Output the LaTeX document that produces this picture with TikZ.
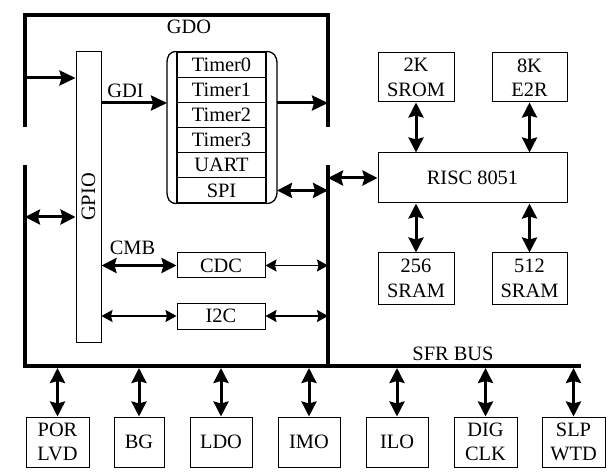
\documentclass[tikz,border=0pt]{standalone}
\usepackage{fontspec}
\setmainfont{Liberation Serif}
\usetikzlibrary{arrows.meta}
\tikzset{
  box/.style={draw, line width=1pt, inner sep=0pt, align=center},
  lbl/.style={inner sep=0pt},
  frame/.style={line width=3.5pt, line join=miter},
  thk/.style={line width=3pt, -{Stealth[length=16pt,width=15pt,inset=2pt]}},
  thkd/.style={line width=3pt, {Stealth[length=15pt,width=15pt,inset=2pt]}-{Stealth[length=15pt,width=15pt,inset=2pt]}},
  thnd/.style={line width=1.5pt, {Stealth[length=11pt,width=12pt,inset=1.5pt]}-{Stealth[length=11pt,width=12pt,inset=1.5pt]}},
}
\begin{document}
\begin{tikzpicture}[x=1pt,y=-1pt,font=\fontsize{20.4}{24.5}\selectfont]
\useasboundingbox (0,0) rectangle (616,473);
% frame
\draw[frame] (25,127) -- (25,15) -- (328,15) -- (328,127);
\draw[frame] (25,165) -- (25,366) -- (581,366);
\draw[frame] (328,165) -- (328,366);
\node[lbl] (gdo) at (189,27) {GDO};
\node[lbl] (sfr) at (453,354) {SFR BUS};
% GPIO
\node[box, minimum width=25pt, minimum height=290pt] (gpio) at (88.5,197) {};
\node[lbl, rotate=90] (gpiolbl) at (gpio.center) {GPIO};
% timer stack
\node[box, line width=1.2pt, minimum width=89pt, minimum height=25.17pt] (t0) at (221.5,64.6) {Timer0};
\node[box, line width=1.2pt, minimum width=89pt, minimum height=25.17pt] (t1) at (221.5,89.75) {Timer1};
\node[box, line width=1.2pt, minimum width=89pt, minimum height=25.17pt] (t2) at (221.5,114.9) {Timer2};
\node[box, line width=1.2pt, minimum width=89pt, minimum height=25.17pt] (t3) at (221.5,140.1) {Timer3};
\node[box, line width=1.2pt, minimum width=89pt, minimum height=25.17pt] (t4) at (221.5,165.25) {UART};
\node[box, line width=1.2pt, minimum width=89pt, minimum height=25.17pt] (t5) at (221.5,190.4) {SPI};
\draw[line width=1.3pt] (t0.north west) .. controls (169,52) and (167,56) .. (167,64) -- (167,191) .. controls (167,199) and (169,203) .. (t5.south west);
\draw[line width=1.3pt] (t0.north east) .. controls (274,52) and (277,56) .. (277,64) -- (277,191) .. controls (277,199) and (274,203) .. (t5.south east);
\coordinate (stackL) at (167,103);
\coordinate (stackR) at (277,103);
\coordinate (spiR) at (277,190.4);
% CDC / I2C
\node[box, minimum width=88pt, minimum height=25pt] (cdc) at (221,265.5) {CDC};
\node[box, minimum width=88pt, minimum height=26pt] (i2c) at (221,316) {I2C};
\node[lbl] (cmb) at (132.5,248) {CMB};
\node[lbl] (gdi) at (125.5,90.5) {GDI};
% frame coordinates
\coordinate (fA) at (25,78);
\coordinate (fB) at (25,217);
\coordinate (rA) at (328,103);
\coordinate (rSPI) at (328,190.4);
\coordinate (rRISC) at (328,178);
\coordinate (rCDC) at (328,265.5);
\coordinate (rI2C) at (328,316);
% left connectors
\draw[thk] (fA) -- (fA -| gpio.west);
\draw[thkd] (fB) -- (fB -| gpio.west);
\draw[thk] (gpio.east |- stackL) -- (stackL);
\draw[thk] (stackR) -- (rA);
\draw[thkd] (spiR) -- (rSPI);
\draw[thkd] (gpio.east |- cdc.west) -- (cdc.west);
\draw[thnd] (cdc.east) -- (rCDC);
\draw[thnd] (gpio.east |- i2c.west) -- (i2c.west);
\draw[thnd] (i2c.east) -- (rI2C);
% CPU side
\node[box, minimum width=189pt, minimum height=50pt] (risc) at (472.5,178) {RISC 8051};
\node[box, minimum width=76pt, minimum height=49pt] (rom) at (416,77.5) {2K\\SROM};
\node[box, minimum width=75pt, minimum height=49pt] (e2r) at (529.5,77.5) {8K\\E2R};
\node[box, minimum width=76pt, minimum height=51pt] (sram1) at (416,278.5) {256\\SRAM};
\node[box, minimum width=75pt, minimum height=51pt] (sram2) at (529.5,278.5) {512\\SRAM};
\draw[thkd] (rRISC) -- (risc.west);
\draw[thkd] (rom.south) -- (rom.south |- risc.north);
\draw[thkd] (e2r.south) -- (e2r.south |- risc.north);
\draw[thkd] (sram1.north) -- (sram1.north |- risc.south);
\draw[thkd] (sram2.north) -- (sram2.north |- risc.south);
% bottom boxes
\coordinate (bus) at (0,368);
\node[box, minimum width=63pt, minimum height=50pt] (por) at (57.5,442) {POR\\LVD};
\node[box, minimum width=50pt, minimum height=50pt] (bg) at (139,442) {BG};
\node[box, minimum width=62pt, minimum height=50pt] (ldo) at (221,442) {LDO};
\node[box, minimum width=62pt, minimum height=50pt] (imo) at (309,442) {IMO};
\node[box, minimum width=62pt, minimum height=50pt] (ilo) at (397,442) {ILO};
\node[box, minimum width=63pt, minimum height=50pt] (dig) at (485.5,442) {DIG\\CLK};
\node[box, minimum width=63pt, minimum height=50pt] (slp) at (573.5,442) {SLP\\WTD};
\foreach \b in {por,bg,ldo,imo,ilo,dig,slp}
  \draw[thkd] (\b.north |- bus) -- (\b.north);
\end{tikzpicture}
\end{document}
